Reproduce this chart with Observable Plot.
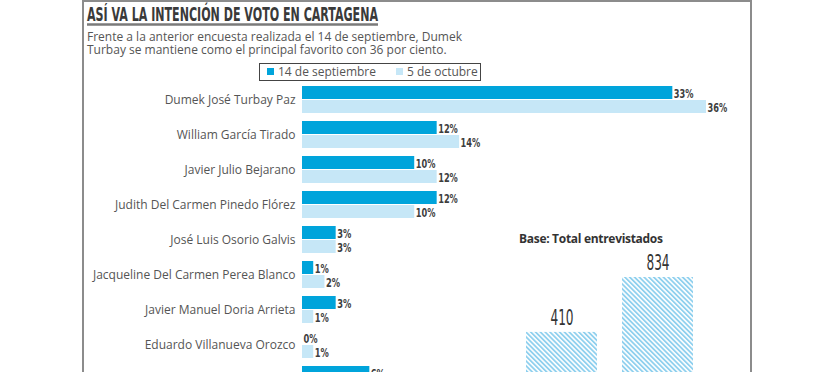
<!DOCTYPE html>
<html>
<head>
<meta charset="utf-8">
<script src="https://cdn.jsdelivr.net/npm/d3@7"></script>
<script src="https://cdn.jsdelivr.net/npm/@observablehq/plot@0.6"></script>
<style>
  html, body { margin: 0; padding: 0; background: #fff; }
  body { width: 834px; height: 372px; overflow: hidden; position: relative; font-family: "Open Sans", sans-serif; }
  #frame { position: absolute; left: 82px; top: 0; width: 670px; height: 520px; box-sizing: border-box; border: 2px solid #8c8c8c; }
  #title { position: absolute; left: 86px; top: 1px; }
  #subtitle { position: absolute; left: 87px; top: 30px; font-size: 12px; line-height: 13px; color: #555; }
  #main { position: absolute; left: 0; top: 0; }
  #legend { position: absolute; left: 259px; top: 63px; width: 222px; height: 18px; box-sizing: border-box; border: 1.5px solid #444; padding-left: 7px; overflow: hidden; }
  #legend .lg-swatches-wrap { min-height: 0 !important; margin: 0 !important; height: 15px; font-family: "Open Sans", sans-serif !important; font-size: 12px !important; color: #555; flex-wrap: nowrap; }
  #legend .lg-swatch { margin-right: 20px !important; white-space: nowrap; }
  #legend .lg-swatch > svg { margin-right: 4px !important; }
  #basetitle { position: absolute; left: 519px; top: 230px; font-size: 12px; font-weight: bold; color: #333; letter-spacing: -0.3px; }
  #inset { position: absolute; left: 500px; top: 240px; }
</style>
</head>
<body>
<div id="frame"></div>
<svg id="title" width="300" height="27">
  <text x="1" y="20" font-family="DejaVu Sans Condensed, DejaVu Sans" font-weight="bold" font-size="19" fill="#3a3a3a" textLength="291" lengthAdjust="spacingAndGlyphs">ASÍ VA LA INTENCIÓN DE VOTO EN CARTAGENA</text>
  <line x1="1" x2="292" y1="23.5" y2="23.5" stroke="#7a7a7a" stroke-width="2.5"></line>
</svg>
<div id="subtitle">Frente a la anterior encuesta realizada el 14 de septiembre, Dumek<br>Turbay se mantiene como el principal favorito con 36 por ciento.</div>
<div id="main"></div>
<div id="legend"></div>
<div id="basetitle">Base: Total entrevistados</div>
<div id="inset"></div>
<script>
const candidatos = [
  "Dumek José Turbay Paz",
  "William García Tirado",
  "Javier Julio Bejarano",
  "Judith Del Carmen Pinedo Flórez",
  "José Luis Osorio Galvis",
  "Jacqueline Del Carmen Perea Blanco",
  "Javier Manuel Doria Arrieta",
  "Eduardo Villanueva Orozco",
  "Voto en blanco"
];
const series = ["14 de septiembre", "5 de octubre"];
const septiembre = [33, 12, 10, 12, 3, 1, 3, 0, 6];
const octubre = [36, 14, 12, 10, 3, 2, 1, 1, 5];
const entrevistados = [410, 834];
const colores = ["#00a4db", "#c6e7f7"];

const data = candidatos.flatMap((c, i) => [
  {candidato: c, serie: series[0], valor: septiembre[i]},
  {candidato: c, serie: series[1], valor: octubre[i]}
]);

const main = Plot.plot({
  width: 834,
  height: 400,
  marginLeft: 302,
  marginRight: 128,
  marginTop: 86,
  marginBottom: 6,
  style: {fontFamily: "'Open Sans', sans-serif", fontSize: "12px", color: "#555", background: "transparent", overflow: "visible"},
  x: {domain: [0, 36], axis: null},
  y: {domain: series, axis: null, paddingInner: 0.04, paddingOuter: 0},
  fy: {domain: candidatos, paddingInner: 0.2, paddingOuter: 0, axis: "left", label: null, tickSize: 0, tickPadding: 7},
  color: {domain: series, range: colores},
  marks: [
    Plot.barX(data, {x: "valor", y: "serie", fy: "candidato", fill: "serie"}),
    Plot.text(data, {x: "valor", y: "serie", fy: "candidato", text: d => d.valor + "%", textAnchor: "start", dx: 1, dy: 1,
      fontFamily: "'DejaVu Sans Condensed', 'DejaVu Sans', sans-serif", fontWeight: "bold", fontSize: 13, fill: "#3d3d3d"})
  ]
});
// condense the percentage labels like the reference's narrow typeface
d3.select(main).selectAll("g[aria-label='text'] text").each(function () {
  const s = this.textContent;
  const digits = s.length - 1;
  d3.select(this).attr("textLength", digits * 5.6 + 8.5).attr("lengthAdjust", "spacingAndGlyphs");
});
document.getElementById("main").appendChild(main);

const legend = Plot.legend({color: {domain: series, range: colores, type: "categorical"}, swatchSize: 7, className: "lg"});
document.getElementById("legend").appendChild(legend);

const baseData = series.map((s, i) => ({serie: s, n: entrevistados[i]}));
const inset = Plot.plot({
  width: 220,
  height: 160,
  marginLeft: 26,
  marginRight: 27,
  marginTop: 37,
  marginBottom: 15,
  style: {background: "transparent", overflow: "visible"},
  x: {domain: series, axis: null, paddingInner: 25 / 96, paddingOuter: 0},
  y: {domain: [0, 834], axis: null},
  marks: [
    Plot.barY(baseData, {x: "serie", y: "n", fill: "url(#hatch)"}),
    Plot.text(baseData, {x: "serie", y: "n", text: d => String(d.n), dy: -14,
      fontFamily: "'DejaVu Sans Condensed', 'DejaVu Sans', sans-serif", fontSize: 21, fill: "#333"})
  ]
});
d3.select(inset).selectAll("g[aria-label='text'] text").each(function () {
  d3.select(this).attr("textLength", this.textContent.length * 7.7).attr("lengthAdjust", "spacingAndGlyphs");
});
const defs = d3.select(inset).insert("defs", ":first-child");
const pat = defs.append("pattern").attr("id", "hatch").attr("patternUnits", "userSpaceOnUse")
  .attr("width", 3.4).attr("height", 3.4).attr("patternTransform", "rotate(-45)");
pat.append("rect").attr("width", 3.4).attr("height", 3.4).attr("fill", "#ffffff");
pat.append("rect").attr("width", 1.8).attr("height", 3.4).attr("fill", "#8fd0ee");
document.getElementById("inset").appendChild(inset);
</script>
</body>
</html>
